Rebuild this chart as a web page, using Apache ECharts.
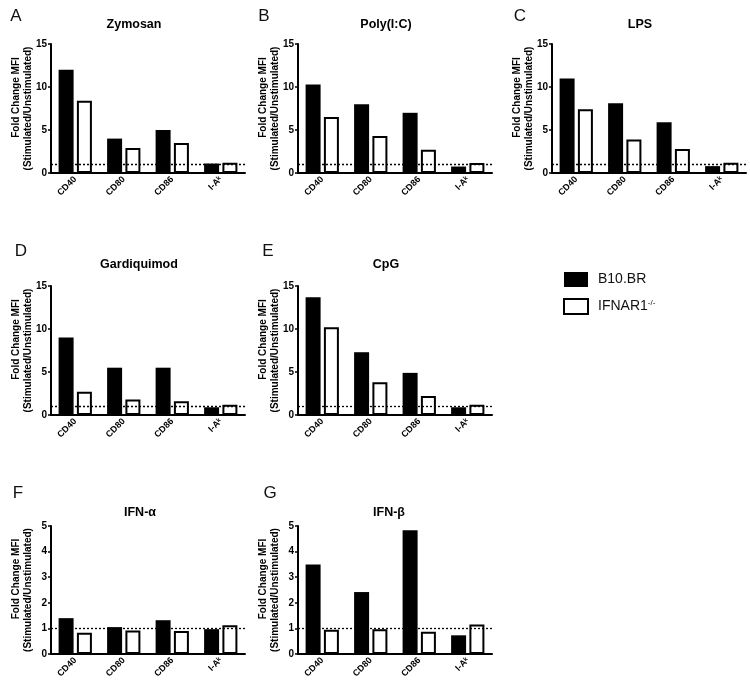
<!DOCTYPE html>
<html><head><meta charset="utf-8">
<script src="https://cdn.jsdelivr.net/npm/echarts@6/dist/echarts.min.js"></script>
<style>html,body{margin:0;padding:0;background:#fff}#c{width:750px;height:692px}</style>
</head><body><div id="c"></div>
<script>
// ---- data ----
const categories = ['CD40', 'CD80', 'CD86', 'I-A\u1D4F'];
const panelTitles = ['Zymosan', 'Poly(I:C)', 'LPS', 'Gardiquimod', 'CpG', 'IFN-\u03B1', 'IFN-\u03B2'];
const panelLetters = ['A', 'B', 'C', 'D', 'E', 'F', 'G'];
const seriesNames = ['B10.BR', 'IFNAR1-/-'];

const zymosanB10   = [12.0, 4.0, 5.0, 1.1];
const zymosanIfnar = [8.4, 2.9, 3.5, 1.2];
const polyICB10    = [10.3, 8.0, 7.0, 0.75];
const polyICIfnar  = [6.5, 4.3, 2.7, 1.15];
const lpsB10       = [11.0, 8.1, 5.9, 0.8];
const lpsIfnar     = [7.4, 3.9, 2.8, 1.2];
const gardB10      = [9.0, 5.5, 5.5, 0.9];
const gardIfnar    = [2.7, 1.8, 1.6, 1.2];
const cpgB10       = [13.7, 7.3, 4.9, 0.9];
const cpgIfnar     = [10.2, 3.8, 2.2, 1.2];
const ifnaB10      = [1.4, 1.05, 1.32, 0.97];
const ifnaIfnar    = [0.83, 0.92, 0.9, 1.12];
const ifnbB10      = [3.5, 2.42, 4.83, 0.73];
const ifnbIfnar    = [0.95, 0.97, 0.87, 1.15];

const yMaxLarge = 15, yStepLarge = 5;
const yMaxSmall = 5, yStepSmall = 1;
const baselineValue = 1;

// ---- build ----
const panelValues = [
  [zymosanB10, zymosanIfnar], [polyICB10, polyICIfnar], [lpsB10, lpsIfnar],
  [gardB10, gardIfnar], [cpgB10, cpgIfnar], [ifnaB10, ifnaIfnar], [ifnbB10, ifnbIfnar]
];
const panelScale = [
  [yMaxLarge, yStepLarge], [yMaxLarge, yStepLarge], [yMaxLarge, yStepLarge],
  [yMaxLarge, yStepLarge], [yMaxLarge, yStepLarge], [yMaxSmall, yStepSmall], [yMaxSmall, yStepSmall]
];
const layout = [
  {left: 51, top: 44, width: 194, height: 129, title: [134, 25], letter: [16, 16]},
  {left: 298, top: 44, width: 194, height: 129, title: [386, 25], letter: [264, 16]},
  {left: 552, top: 44, width: 194, height: 129, title: [640, 25], letter: [520, 16]},
  {left: 51, top: 286, width: 194, height: 129, title: [139, 265], letter: [21, 251]},
  {left: 298, top: 286, width: 194, height: 129, title: [386, 265], letter: [268, 251]},
  {left: 51, top: 526, width: 194, height: 128, title: [140, 513], letter: [18, 493]},
  {left: 298, top: 526, width: 194, height: 128, title: [389, 513], letter: [270, 493]}
];
const FONT = '"Liberation Sans", Arial, Helvetica, sans-serif';

const grid = [], xAxis = [], yAxis = [], series = [], graphic = [];
layout.forEach((L, i) => {
  grid.push({left: L.left, top: L.top, width: L.width, height: L.height, containLabel: false});
  xAxis.push({
    type: 'category', gridIndex: i, data: categories,
    axisLine: {lineStyle: {color: '#000', width: 2}},
    axisTick: {alignWithLabel: true, length: 4, lineStyle: {color: '#000', width: 1.5}},
    axisLabel: {rotate: 45, interval: 0, fontSize: 9, fontWeight: 'bold', color: '#000', margin: 5, fontFamily: FONT},
    splitLine: {show: false}
  });
  yAxis.push({
    type: 'value', gridIndex: i, min: 0, max: panelScale[i][0], interval: panelScale[i][1],
    axisLine: {show: true, lineStyle: {color: '#000', width: 2}},
    axisTick: {show: true, length: 3, lineStyle: {color: '#000', width: 1.5}},
    axisLabel: {fontSize: 10, fontWeight: 'bold', color: '#000', margin: 4, fontFamily: FONT},
    splitLine: {show: false},
    name: '{a|Fold Change MFI}\n{b|(Stimulated/Unstimulated)}',
    nameLocation: 'middle', nameRotate: 90, nameGap: 17, nameMoveOverlap: false,
    nameTextStyle: {fontSize: 10, fontWeight: 'bold', color: '#000', lineHeight: 12, fontFamily: FONT,
      rich: {
        a: {fontSize: 10, fontWeight: 'bold', color: '#000', lineHeight: 12, fontFamily: FONT, padding: [0, 0, 0, 22]},
        b: {fontSize: 10, fontWeight: 'bold', color: '#000', lineHeight: 12, fontFamily: FONT}
      }}
  });
  series.push({
    type: 'bar', name: seriesNames[0], xAxisIndex: i, yAxisIndex: i,
    data: panelValues[i][0], barWidth: 15, barGap: '22%',
    itemStyle: {color: '#000'},
    markLine: {
      silent: true, symbol: 'none', label: {show: false},
      lineStyle: {color: '#000', type: [2, 2], width: 1.3},
      data: [{yAxis: baselineValue}]
    }
  });
  series.push({
    type: 'bar', name: seriesNames[1], xAxisIndex: i, yAxisIndex: i,
    data: panelValues[i][1], barWidth: 15, barGap: '22%',
    itemStyle: {color: '#fff', borderColor: '#000', borderWidth: 2}
  });
  graphic.push({
    type: 'text', x: L.title[0], y: L.title[1],
    style: {text: panelTitles[i], fontSize: 12.5, fontWeight: 'bold', fill: '#000', fontFamily: FONT,
            textAlign: 'center', textVerticalAlign: 'middle'}
  });
  graphic.push({
    type: 'text', x: L.letter[0], y: L.letter[1],
    style: {text: panelLetters[i], fontSize: 17, fontWeight: 'normal', fill: '#111', fontFamily: FONT,
            textAlign: 'center', textVerticalAlign: 'middle'}
  });
});

const chart = echarts.init(document.getElementById('c'), null, {renderer: 'canvas'});
chart.setOption({
  animation: false,
  backgroundColor: '#fff',
  grid, xAxis, yAxis, series, graphic,
  legend: {
    data: seriesNames, orient: 'vertical', left: 558, top: 267,
    itemWidth: 24, itemHeight: 15, itemGap: 11, icon: 'rect',
    textStyle: {fontSize: 14, color: '#111', fontFamily: FONT, padding: [0, 0, 0, 5],
      rich: {
        n: {fontSize: 14, color: '#111', fontFamily: FONT, lineHeight: 16},
        s: {fontSize: 8, color: '#111', fontFamily: FONT, verticalAlign: 'top', lineHeight: 16, padding: [0, 0, 6, 0]}
      }},
    formatter: function (name) { return name === seriesNames[0] ? name : '{n|IFNAR1}{s|-/-}'; }
  }
});
</script></body></html>
